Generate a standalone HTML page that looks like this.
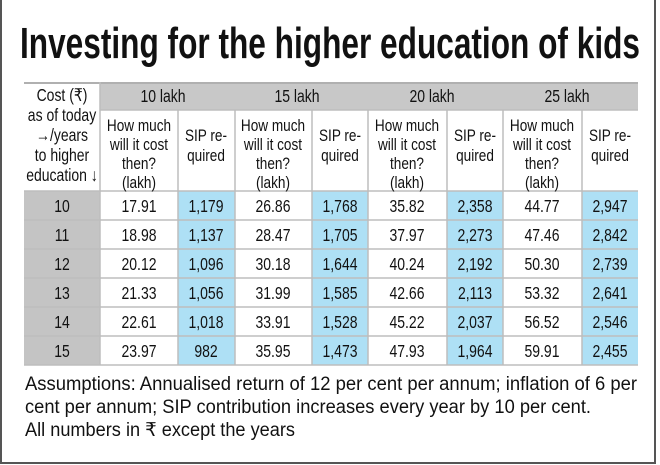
<!DOCTYPE html>
<html><head><meta charset="utf-8"><style>
html,body{margin:0;padding:0;background:#fff;}
svg{display:block}
text{font-family:"Liberation Sans Narrow","Liberation Sans","DejaVu Sans",sans-serif;fill:#111;}
</style></head><body>
<svg width="660" height="465" viewBox="0 0 660 465" xmlns="http://www.w3.org/2000/svg">
<rect x="0" y="0" width="660" height="465" fill="#fff"/>
<line x1="1" y1="0" x2="1" y2="463" stroke="#555" stroke-width="2"/>
<line x1="0" y1="463" x2="656" y2="463" stroke="#555" stroke-width="2"/>
<line x1="655" y1="0" x2="655" y2="464" stroke="#555" stroke-width="2"/>
<text x="20" y="58" font-size="44" font-weight="bold" textLength="620" lengthAdjust="spacingAndGlyphs">Investing for the higher education of kids</text>

<rect x="100" y="82" width="538" height="28" fill="#c8c8c8"/>
<rect x="24" y="82" width="614" height="2" fill="#b0b0b0"/>
<rect x="24" y="191" width="76" height="174" fill="#c4c4c4"/>
<rect x="178" y="191" width="57" height="174" fill="#aee0f5"/>
<rect x="312" y="191" width="56" height="174" fill="#aee0f5"/>
<rect x="447" y="191" width="56" height="174" fill="#aee0f5"/>
<rect x="582" y="191" width="56" height="174" fill="#aee0f5"/>
<g stroke="#bdbdbd" stroke-width="1.5">
<line x1="24" y1="191" x2="638" y2="191"/>
<line x1="24" y1="220" x2="638" y2="220"/>
<line x1="24" y1="249" x2="638" y2="249"/>
<line x1="24" y1="278" x2="638" y2="278"/>
<line x1="24" y1="307" x2="638" y2="307"/>
<line x1="24" y1="336" x2="638" y2="336"/>
<line x1="24" y1="365" x2="638" y2="365"/>
<line x1="100" y1="110" x2="638" y2="110"/>
<line x1="100" y1="82" x2="100" y2="365"/>
<line x1="178" y1="110" x2="178" y2="365"/>
<line x1="235" y1="110" x2="235" y2="365"/>
<line x1="312" y1="110" x2="312" y2="365"/>
<line x1="368" y1="110" x2="368" y2="365"/>
<line x1="447" y1="110" x2="447" y2="365"/>
<line x1="503" y1="110" x2="503" y2="365"/>
<line x1="582" y1="110" x2="582" y2="365"/>
</g>
<g transform="scale(0.8,1)">
<g font-size="17.5" text-anchor="middle">
<text x="77.5" y="101">Cost (₹)</text>
<text x="77.5" y="121">as of today</text>
<text x="77.5" y="141">→/years</text>
<text x="77.5" y="161">to higher</text>
<text x="77.5" y="181">education ↓</text>
<text x="203.75" y="102">10 lakh</text>
<text x="371.25" y="102">15 lakh</text>
<text x="540" y="102">20 lakh</text>
<text x="708.75" y="102">25 lakh</text>
</g>
<g font-size="17" text-anchor="middle">
<text x="173.75" y="131">How much</text><text x="173.75" y="150">will it cost</text><text x="173.75" y="169">then?</text><text x="173.75" y="188">(lakh)</text>
<text x="257.5" y="141">SIP re-</text><text x="257.5" y="161">quired</text>
<text x="341.25" y="131">How much</text><text x="341.25" y="150">will it cost</text><text x="341.25" y="169">then?</text><text x="341.25" y="188">(lakh)</text>
<text x="425" y="141">SIP re-</text><text x="425" y="161">quired</text>
<text x="508.75" y="131">How much</text><text x="508.75" y="150">will it cost</text><text x="508.75" y="169">then?</text><text x="508.75" y="188">(lakh)</text>
<text x="593.75" y="141">SIP re-</text><text x="593.75" y="161">quired</text>
<text x="677.5" y="131">How much</text><text x="677.5" y="150">will it cost</text><text x="677.5" y="169">then?</text><text x="677.5" y="188">(lakh)</text>
<text x="762.5" y="141">SIP re-</text><text x="762.5" y="161">quired</text>
</g>
<g font-size="17.5" text-anchor="middle">
<text x="77.5" y="212">10</text><text x="173.75" y="212">17.91</text><text x="257.5" y="212">1,179</text><text x="341.25" y="212">26.86</text><text x="425" y="212">1,768</text><text x="508.75" y="212">35.82</text><text x="593.75" y="212">2,358</text><text x="677.5" y="212">44.77</text><text x="762.5" y="212">2,947</text>
<text x="77.5" y="241">11</text><text x="173.75" y="241">18.98</text><text x="257.5" y="241">1,137</text><text x="341.25" y="241">28.47</text><text x="425" y="241">1,705</text><text x="508.75" y="241">37.97</text><text x="593.75" y="241">2,273</text><text x="677.5" y="241">47.46</text><text x="762.5" y="241">2,842</text>
<text x="77.5" y="270">12</text><text x="173.75" y="270">20.12</text><text x="257.5" y="270">1,096</text><text x="341.25" y="270">30.18</text><text x="425" y="270">1,644</text><text x="508.75" y="270">40.24</text><text x="593.75" y="270">2,192</text><text x="677.5" y="270">50.30</text><text x="762.5" y="270">2,739</text>
<text x="77.5" y="299">13</text><text x="173.75" y="299">21.33</text><text x="257.5" y="299">1,056</text><text x="341.25" y="299">31.99</text><text x="425" y="299">1,585</text><text x="508.75" y="299">42.66</text><text x="593.75" y="299">2,113</text><text x="677.5" y="299">53.32</text><text x="762.5" y="299">2,641</text>
<text x="77.5" y="328">14</text><text x="173.75" y="328">22.61</text><text x="257.5" y="328">1,018</text><text x="341.25" y="328">33.91</text><text x="425" y="328">1,528</text><text x="508.75" y="328">45.22</text><text x="593.75" y="328">2,037</text><text x="677.5" y="328">56.52</text><text x="762.5" y="328">2,546</text>
<text x="77.5" y="357">15</text><text x="173.75" y="357">23.97</text><text x="257.5" y="357">982</text><text x="341.25" y="357">35.95</text><text x="425" y="357">1,473</text><text x="508.75" y="357">47.93</text><text x="593.75" y="357">1,964</text><text x="677.5" y="357">59.91</text><text x="762.5" y="357">2,455</text>
</g>
</g>
<g font-size="19">
<text x="25" y="390" textLength="612" lengthAdjust="spacingAndGlyphs">Assumptions: Annualised return of 12 per cent per annum; inflation of 6 per</text>
<text x="25" y="413" textLength="566" lengthAdjust="spacingAndGlyphs">cent per annum; SIP contribution increases every year by 10 per cent.</text>
<text x="25" y="436" textLength="270" lengthAdjust="spacingAndGlyphs">All numbers in ₹ except the years</text>
</g>
</svg>
</body></html>
